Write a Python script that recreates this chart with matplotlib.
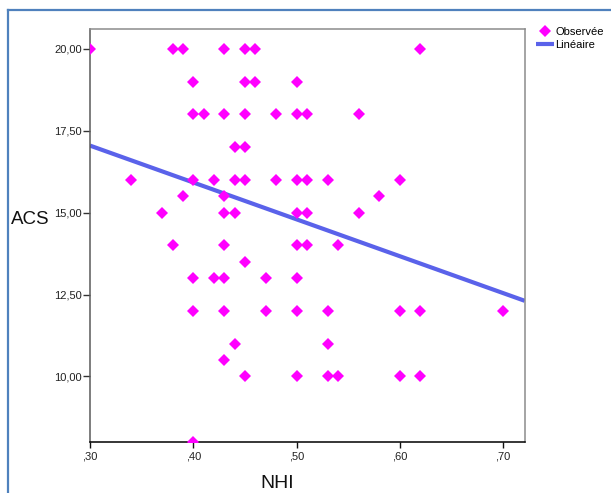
import matplotlib
matplotlib.use("Agg")
import matplotlib.pyplot as plt
from matplotlib.lines import Line2D

plt.rcParams["font.family"] = ["Liberation Sans", "DejaVu Sans"]

nhi = [
    0.30, 0.38, 0.39, 0.43, 0.45, 0.46, 0.62,
    0.40, 0.45, 0.46, 0.50,
    0.40, 0.41, 0.43, 0.45, 0.48, 0.50, 0.51, 0.56,
    0.44, 0.45,
    0.34, 0.40, 0.42, 0.44, 0.45, 0.48, 0.50, 0.51, 0.53, 0.60,
    0.39, 0.43, 0.58,
    0.37, 0.43, 0.44, 0.50, 0.51, 0.56,
    0.38, 0.43, 0.50, 0.51, 0.54,
    0.45,
    0.40, 0.42, 0.43, 0.47, 0.50,
    0.40, 0.43, 0.47, 0.50, 0.53, 0.60, 0.62, 0.70,
    0.44, 0.53,
    0.43,
    0.45, 0.50, 0.53, 0.54, 0.60, 0.62,
    0.40,
]
acs = (
    [20.0] * 7 + [19.0] * 4 + [18.0] * 8 + [17.0] * 2 + [16.0] * 10
    + [15.5] * 3 + [15.0] * 6 + [14.0] * 5 + [13.5] * 1 + [13.0] * 5
    + [12.0] * 8 + [11.0] * 2 + [10.5] * 1 + [10.0] * 6 + [8.0] * 1
)

# Linear fit line, end points
line_x = [0.30, 0.721]
line_y = [17.05, 12.31]

x_ticks = [0.30, 0.40, 0.50, 0.60, 0.70]
x_tick_labels = [",30", ",40", ",50", ",60", ",70"]
y_ticks = [10.0, 12.5, 15.0, 17.5, 20.0]
y_tick_labels = ["10,00", "12,50", "15,00", "17,50", "20,00"]

W, H = 611, 493
figure = plt.figure(figsize=(W / 100, H / 100), dpi=100)
axis = figure.add_axes([90 / W, 1 - 442 / H, (524.5 - 90) / W, (442 - 29) / H])

axis.plot(line_x, line_y, color="#5a62ea", linewidth=3.0, zorder=2,
          label="Linéaire", solid_capstyle="butt")
axis.plot(nhi, acs, linestyle="none", marker="D", markersize=6.6,
          color="#ff00ff", markeredgewidth=0, zorder=3, label="Observée")

axis.set_xlim(0.30, 0.7207)
axis.set_ylim(8.0, 20.61)
axis.set_xticks(x_ticks)
axis.set_xticklabels(x_tick_labels)
axis.set_yticks(y_ticks)
axis.set_yticklabels(y_tick_labels)

axis.tick_params(axis="y", direction="out", length=5, width=1, pad=1,
                 labelsize=8, color="#333333", labelcolor="#222222")
axis.tick_params(axis="x", direction="out", length=4, width=1, pad=3,
                 labelsize=8, color="#111111", labelcolor="#222222")

for side in ["top", "right"]:
    axis.spines[side].set_color("#8c8c8c")
    axis.spines[side].set_linewidth(1.1)
axis.spines["left"].set_color("#5a5a5a")
axis.spines["left"].set_linewidth(1.1)
axis.spines["bottom"].set_color("#000000")
axis.spines["bottom"].set_linewidth(1.1)

# axis titles
figure.text(11 / W, 1 - 219 / H, "ACS", fontsize=13.5, va="center",
            ha="left", color="#111111")
figure.text(277 / W, 1 - 488 / H, "NHI", fontsize=14, va="baseline",
            ha="center", color="#111111")

# legend
handles = [
    Line2D([], [], linestyle="none", marker="D", markersize=6.6,
           color="#ff00ff", markeredgewidth=0),
    Line2D([], [], color="#5a62ea", linewidth=3.0, solid_capstyle="butt"),
]
figure.legend(handles, ["Observée", "Linéaire"], loc="upper left",
              bbox_to_anchor=(536 / W, 1 - 27 / H), frameon=False,
              fontsize=8, borderpad=0, borderaxespad=0, handlelength=1.6,
              handletextpad=0.15, labelspacing=0.25, markerscale=1.0)

# blue outline of the surrounding box
figure.add_artist(Line2D([8 / W, 8 / W], [0, 1 - 10 / H], color="#4f81bd",
                         linewidth=1.6, transform=figure.transFigure))
figure.add_artist(Line2D([8 / W, 1], [1 - 10 / H, 1 - 10 / H],
                         color="#4f81bd", linewidth=1.6,
                         transform=figure.transFigure))

figure.savefig("out.png", dpi=100)
plt.close(figure)
